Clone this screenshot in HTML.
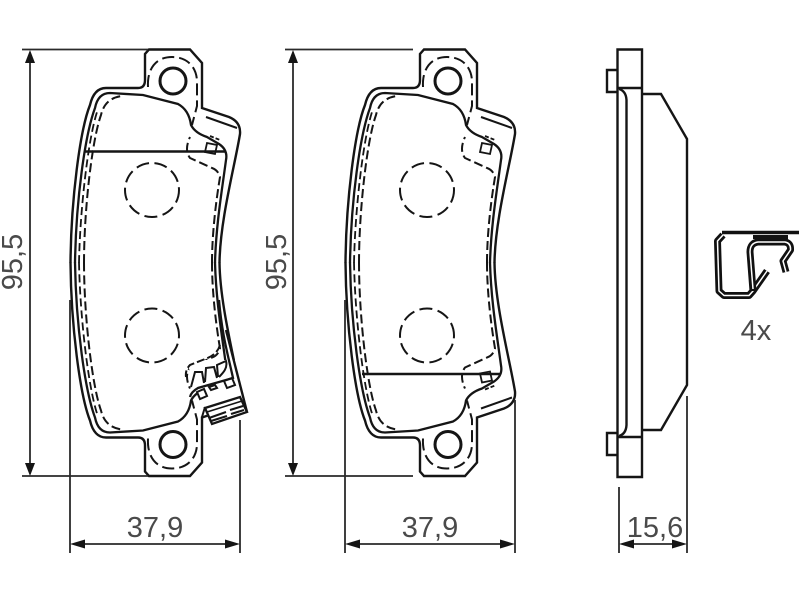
<!DOCTYPE html>
<html>
<head>
<meta charset="utf-8">
<style>
html,body{margin:0;padding:0;background:#fff;width:800px;height:600px;overflow:hidden}
svg{display:block;filter:blur(0.35px)}
text{font-family:"Liberation Sans",sans-serif;font-size:29px;fill:#4a4a4a}
</style>
</head>
<body>
<svg width="800" height="600" viewBox="0 0 800 600" xmlns="http://www.w3.org/2000/svg">
<defs>
<g id="half" fill="none" stroke="#151515">
  <path stroke-width="2.4" d="M70.5 263 C71 200 80 130 90 105 Q94 88 106 88 L138 88 Q145 88 145 80 L145 54 L149 49.5 L190 49.5 L202 63 L202 108 L229 117 Q241 122 240 134 C235 165 220 220 219.5 263"/>
  <path stroke-width="2.3" d="M75 263 C76 200 85 135 95 108 Q98 93 110 93 L143 95 L178 104 Q189 110 191 125 Q195 133 207 137 L219 144 Q228 150 226 160 C222 190 216 225 215 263"/>
  <path stroke-width="2" d="M206 117 L237 128"/>
  <path stroke-width="2" stroke-dasharray="9 4" d="M84 263 C84 210 92 140 101 115 Q105 98 122 96"/>
  <path stroke-width="1.8" stroke-dasharray="8 4" d="M79 263 C80 210 88 140 97 112"/>
  <path stroke-width="2" stroke-dasharray="12 5" d="M148 87 C147 70 155 57 172 57 C188 57 197 68 197 82 L197 106 L192 125"/>
  <path stroke-width="2" stroke-dasharray="9 4" d="M212 263 C212 230 217 195 220 177 Q218 170 212 168 L190 158 Q184 150 190 137"/>
  <path stroke-width="1.8" d="M207 143 L217 145 L215 154 L205 152 Z"/>
  <path stroke-width="1.8" stroke-dasharray="4 2" d="M210 136 L220 140"/>
  <circle cx="173" cy="81" r="13" stroke-width="3"/>
  <circle cx="152" cy="190" r="27" stroke-width="2" stroke-dasharray="13 5.5"/>
</g>
<g id="pad">
  <use href="#half"/>
  <use href="#half" transform="matrix(1 0 0 -1 0 525.5)"/>
</g>
</defs>

<rect width="800" height="600" fill="#fff"/>

<use href="#pad"/>
<use href="#pad" transform="translate(275 0)"/>

<!-- Left pad section line -->
<path d="M85 151.5 H226" stroke="#151515" stroke-width="2.4" fill="none"/>
<!-- Right pad section line -->
<path d="M362 374 H500" stroke="#151515" stroke-width="2.4" fill="none"/>

<!-- Left pad bottom clip and details -->
<g fill="none" stroke="#151515" stroke-width="2">
  <path fill="#fff" stroke="none" d="M186 360 H238 L248 412 L212 426 L200 400 Z"/>
  <path stroke-width="2.4" d="M226 330 L247 412"/>
  <path stroke-width="2.3" d="M219 300 C222 335 228 355 233 378 L198 388 Q191 392 190 397"/>
  <path d="M205 408 L240 397 L247 412 L212 424 Z" stroke-width="2.3"/>
  <path d="M209 418 L226 412 M211 421 L227 416 M230 410 L243 406 M231 414 L244 410" stroke-width="2"/>
  <path d="M207 412 L242 401" stroke-width="1.6"/>
  <path stroke-dasharray="8 3" d="M220 345 Q217 355 205 359 L190 365 Q185 370 186 377"/>
  <path d="M191 387 L195 372 H202 L204 383 M205 382 L206 368 L214 367 L217 378 M218 377 L217 365 L226 361 C228 368 223 373 219 377"/>
  <path d="M197 392 L204 389 L207 396 L200 399 Z M209 387 L215 385 L217 388 L211 390 Z M224 381 L232 378 L235 385 L227 388 Z"/>
  <path d="M205 407 L202 417 L202 440"/>
</g>

<!-- Dimension lines -->
<g fill="none" stroke="#2a2a2a" stroke-width="1.8">
  <path d="M22 49.5 H148"/>
  <path d="M22 476 H148"/>
  <path d="M30 60 V466"/>
  <path d="M285 49.5 H413"/>
  <path d="M285 476 H413"/>
  <path d="M293 60 V466"/>
  <path d="M70 300 V553"/>
  <path d="M240 420 V553"/>
  <path d="M345 300 V553"/>
  <path d="M515 400 V553"/>
  <path d="M619 487 V553"/>
  <path d="M687 396 V553"/>
  <path d="M80 544 H230"/>
  <path d="M355 544 H505"/>
  <path d="M628 544 H678"/>
</g>
<g fill="#151515" stroke="none">
  <path d="M30 50 L35 63 H25 Z"/>
  <path d="M30 476 L35 463 H25 Z"/>
  <path d="M293 50 L298 63 H288 Z"/>
  <path d="M293 476 L298 463 H288 Z"/>
  <path d="M70 544 L85 539.5 V548.5 Z"/>
  <path d="M240 544 L225 539.5 V548.5 Z"/>
  <path d="M345 544 L360 539.5 V548.5 Z"/>
  <path d="M515 544 L500 539.5 V548.5 Z"/>
  <path d="M619 544 L634 539.5 V548.5 Z"/>
  <path d="M687 544 L672 539.5 V548.5 Z"/>
</g>

<text x="155" y="537" text-anchor="middle">37,9</text>
<text x="430" y="537" text-anchor="middle">37,9</text>
<text x="655" y="537" text-anchor="middle">15,6</text>
<text transform="translate(22 262) rotate(-90)" text-anchor="middle">95,5</text>
<text transform="translate(286 262) rotate(-90)" text-anchor="middle">95,5</text>
<text x="756" y="340" text-anchor="middle">4x</text>

<!-- Side view -->
<g fill="none" stroke="#151515" stroke-width="2.4">
  <path d="M617.5 49.5 H642 V477 H617.5 Z"/>
  <path d="M617.5 88 H642 M617.5 437 H642"/>
  <path d="M617 70 H607 V92 H617"/>
  <path d="M617 433 H607 V455 H617"/>
  <path d="M619 89 Q626 91 626.5 100 V425 Q626 434 619 436"/>
  <path d="M642 94 H661 L687 139 V385 L661 430 H642"/>
</g>

<!-- Clip -->
<g fill="none" stroke-linejoin="round">
  <path stroke="#111" stroke-width="7" d="M723 235 L717.5 241 L719 291 L724 295.5 H749 L753 291 L767 271"/>
  <path stroke="#fff" stroke-width="1.5" d="M723 235 L717.5 241 L719 291 L724 295.5 H749 L753 291 L767 271"/>
  <path stroke="#111" stroke-width="7" d="M753 291 L750 252 Q750 243 758 242 H785 Q791 243 790.5 250 L783 261 L786 272"/>
  <path stroke="#fff" stroke-width="1.5" d="M753 289 L750 252 Q750 243 758 242 H785 Q791 243 790.5 250 L783 261 L786 272"/>
  <path stroke="#111" stroke-width="4" d="M753 237 H788"/>
  <path stroke="#111" stroke-width="3.5" d="M722 232.5 H799"/>
</g>
</svg>
</body>
</html>
